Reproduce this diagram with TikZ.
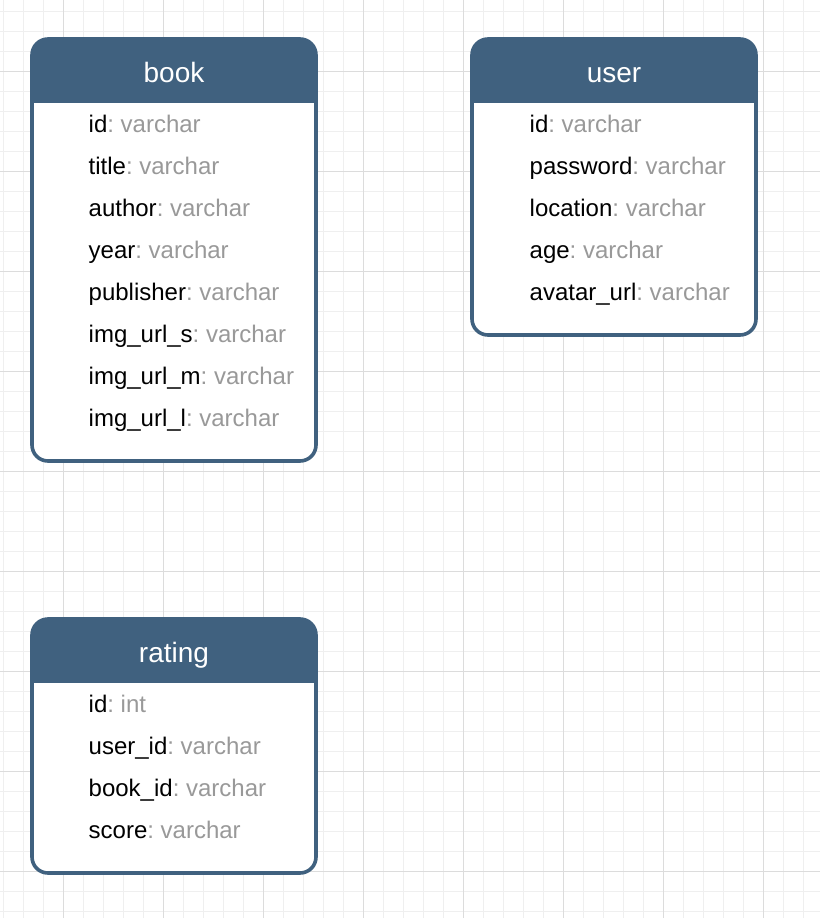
\documentclass[tikz,border=0pt]{standalone}
\usepackage{fontspec}
\setmainfont{Liberation Sans}
\frenchspacing
\definecolor{hdr}{HTML}{40617F}
\definecolor{typ}{HTML}{999999}
\definecolor{gmin}{HTML}{EFEFEF}
\definecolor{gmaj}{HTML}{DCDCDC}
\begin{document}
\begin{tikzpicture}[x=1pt,y=-1pt,
 tbl/.style={draw=hdr, line width=3.6pt, fill=white, rounded corners=16pt, inner sep=0pt, minimum width=284pt,
   path picture={\fill[hdr, sharp corners] (path picture bounding box.north west) rectangle ([yshift=-64pt]path picture bounding box.north east);}},
 ttl/.style={anchor=base, text=white, font=\fontsize{28}{32}\selectfont, inner sep=0pt},
 fld/.style={anchor=base west, font=\fontsize{24}{28}\selectfont\frenchspacing, inner sep=0pt},
 gminor/.style={draw=gmin, line width=1pt},
 gmajor/.style={draw=gmaj, line width=1pt}]
\useasboundingbox (0,0) rectangle (820,918);
\fill[white] (0,0) rectangle (820,918);
% grid
\foreach \x in {3,23,...,819} \draw[gminor] (\x,0) -- (\x,918);
\foreach \y in {11,31,...,911} \draw[gminor] (0,\y) -- (820,\y);
\foreach \x in {63,163,...,763} \draw[gmajor] (\x,0) -- (\x,918);
\foreach \y in {71,171,...,871} \draw[gmajor] (0,\y) -- (820,\y);
% book
\node[tbl, minimum height=422pt] (book) at (174,250) {};
\node[ttl] (book-t) at (174,82) {book};
\node[fld] (book-1) at (88.5,132.5) {id\textcolor{typ}{: varchar}};
\node[fld] (book-2) at (88.5,174.5) {title\textcolor{typ}{: varchar}};
\node[fld] (book-3) at (88.5,216.5) {author\textcolor{typ}{: varchar}};
\node[fld] (book-4) at (88.5,258.5) {year\textcolor{typ}{: varchar}};
\node[fld] (book-5) at (88.5,300.5) {publisher\textcolor{typ}{: varchar}};
\node[fld] (book-6) at (88.5,342.5) {img\_url\_s\textcolor{typ}{: varchar}};
\node[fld] (book-7) at (88.5,384.5) {img\_url\_m\textcolor{typ}{: varchar}};
\node[fld] (book-8) at (88.5,426.5) {img\_url\_l\textcolor{typ}{: varchar}};
% user
\node[tbl, minimum height=296pt] (user) at (614,187) {};
\node[ttl] (user-t) at (614,82) {user};
\node[fld] (user-1) at (529.5,132.5) {id\textcolor{typ}{: varchar}};
\node[fld] (user-2) at (529.5,174.5) {password\textcolor{typ}{: varchar}};
\node[fld] (user-3) at (529.5,216.5) {location\textcolor{typ}{: varchar}};
\node[fld] (user-4) at (529.5,258.5) {age\textcolor{typ}{: varchar}};
\node[fld] (user-5) at (529.5,300.5) {avatar\_url\textcolor{typ}{: varchar}};
% rating
\node[tbl, minimum height=254pt] (rating) at (174,746) {};
\node[ttl] (rating-t) at (174,662) {rating};
\node[fld] (rating-1) at (88.5,712.5) {id\textcolor{typ}{: int}};
\node[fld] (rating-2) at (88.5,754.5) {user\_id\textcolor{typ}{: varchar}};
\node[fld] (rating-3) at (88.5,796.5) {book\_id\textcolor{typ}{: varchar}};
\node[fld] (rating-4) at (88.5,838.5) {score\textcolor{typ}{: varchar}};
\end{tikzpicture}
\end{document}
